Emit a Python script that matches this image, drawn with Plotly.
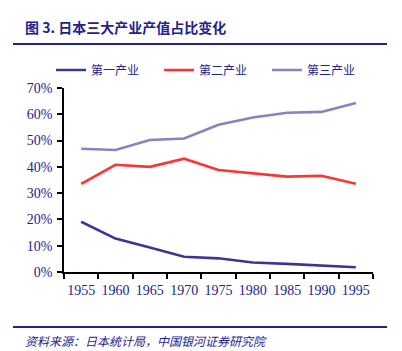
import plotly.graph_objects as go

W, H = 402, 351
L, R, T, B = 64, 29, 88, 79
PW, PH = W - L - R, H - T - B

years = ["1955", "1960", "1965", "1970", "1975", "1980", "1985", "1990", "1995"]
primary = [0.191, 0.127, 0.093, 0.058, 0.052, 0.036, 0.031, 0.024, 0.018]
secondary = [0.335, 0.408, 0.400, 0.431, 0.388, 0.376, 0.363, 0.366, 0.336]
tertiary = [0.469, 0.464, 0.502, 0.508, 0.560, 0.588, 0.606, 0.609, 0.643]
names = ["第一产业", "第二产业", "第三产业"]
colors = ["#3d3596", "#ff3333", "#8c80be"]

title_text = "图 3. 日本三大产业产值占比变化"
source_text = "资料来源：日本统计局，中国银河证券研究院"
navy = "#23238c"


def px(x):
    return (x - L) / PW


def py(y):
    return 1 - (y - T) / PH


fig = go.Figure()
for name, vals, c in zip(names, [primary, secondary, tertiary], colors):
    fig.add_trace(go.Scatter(x=years, y=vals, name=name, mode="lines",
                             line=dict(color=c, width=2.6)))

fig.update_layout(
    width=W, height=H,
    margin=dict(l=L, r=R, t=T, b=B),
    paper_bgcolor="white", plot_bgcolor="white",
    showlegend=True,
    legend=dict(orientation="h", x=px(51), xanchor="left", y=py(70), yanchor="middle",
                font=dict(family="Noto Sans CJK SC", size=12, color=navy),
                entrywidth=63, entrywidthmode="pixels", bgcolor="rgba(0,0,0,0)",
                itemwidth=30, tracegroupgap=0),
    xaxis=dict(type="category", range=[-0.5, 8.5], showline=True, linecolor="black", linewidth=1.5,
               ticks="outside", tickson="boundaries", ticklen=5, tickcolor="black", tickwidth=1.5,
               tickangle=0, ticklabelstandoff=4,
               showgrid=False, tickfont=dict(family="Liberation Serif", size=14, color=navy)),
    yaxis=dict(range=[0, 0.7], dtick=0.1, tickformat=".0%", showline=True, linecolor="black",
               linewidth=1.5, ticks="outside", ticklen=5, tickcolor="black", tickwidth=1.5,
               showgrid=False, zeroline=False, ticklabelstandoff=2,
               tickfont=dict(family="Liberation Serif", size=14, color=navy)),
    font=dict(family="Liberation Serif", color=navy),
)

fig.add_annotation(text="<b>" + title_text + "</b>", xref="paper", yref="paper",
                   x=px(23), y=py(27), xanchor="left", yanchor="middle", showarrow=False,
                   font=dict(family="Noto Sans CJK SC", size=14, color=navy))
fig.add_annotation(text="<i>" + source_text + "</i>", xref="paper", yref="paper",
                   x=px(23), y=py(340), xanchor="left", yanchor="middle", showarrow=False,
                   font=dict(family="Noto Sans CJK SC", size=12, color=navy))
for yy in (44, 327):
    fig.add_shape(type="line", xref="paper", yref="paper", x0=px(13), x1=px(387),
                  y0=py(yy), y1=py(yy), line=dict(color=navy, width=2))

fig.write_html("out.html")
